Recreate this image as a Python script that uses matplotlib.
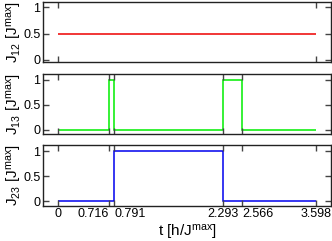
import matplotlib
matplotlib.use("Agg")
import matplotlib.pyplot as plt

# switching times [h/J^max] and couplings per interval
edges = [0, 0.716, 0.791, 2.293, 2.566, 3.598]
J12 = [0.5, 0.5, 0.5, 0.5, 0.5]
J13 = [0, 1, 0, 1, 0]
J23 = [0, 0, 1, 0, 0]
tick_labels = ["0", "0.716", "0.791", "2.293", "2.566", "3.598"]
tick_ha = ["center", "right", "left", "center", "left", "center"]

plt.rcParams["font.family"] = ["Liberation Sans", "DejaVu Sans"]
plt.rcParams["mathtext.fontset"] = "custom"
plt.rcParams["mathtext.rm"] = "Liberation Sans"
plt.rcParams["mathtext.it"] = "Liberation Sans"

fig = plt.figure(figsize=(3.32, 2.41), dpi=100)

# panel boxes (left, bottom, width, height) in figure fractions
boxes = [(0.130, 0.743, 0.867, 0.249),
         (0.130, 0.444, 0.867, 0.249),
         (0.130, 0.147, 0.867, 0.251)]
series = [(J12, "#ee0000", "12", (-0.04, 1.1), [0, 3.598]),
          (J13, "#00ee00", "13", (-0.09, 1.12), edges[:5]),
          (J23, "#0000ee", "23", (-0.09, 1.12), edges)]

for i, (box, (vals, col, idx, ylim, xt)) in enumerate(zip(boxes, series)):
    ax = fig.add_axes(box)
    ax.stairs(vals, edges, baseline=None, color=col, lw=1.1)
    ax.set_xlim(-0.2, 3.8)
    ax.set_ylim(*ylim)
    ax.set_yticks([0, 0.5, 1])
    ax.set_yticklabels(["0", "0.5", "1"], fontsize=9)
    ax.set_xticks(xt)
    if i == 2:
        ax.set_xticklabels(tick_labels, fontsize=9)
        for lab, ha in zip(ax.get_xticklabels(), tick_ha):
            lab.set_ha(ha)
        ax.set_xlabel(r"t [h/J$^{\rm max}$]", fontsize=11, labelpad=2)
    else:
        ax.set_xticklabels([])
    ax.tick_params(direction="in", length=4, width=1, top=True, right=True,
                   pad=2, color="#444444")
    ax.set_ylabel(r"J$_{%s}$ [J$^{\rm max}$]" % idx, fontsize=11)
    ax.yaxis.set_label_coords(-0.068, 0.5)
    for s in ax.spines.values():
        s.set_linewidth(1)
        s.set_color("#222222")

fig.savefig("out.png", dpi=100)
